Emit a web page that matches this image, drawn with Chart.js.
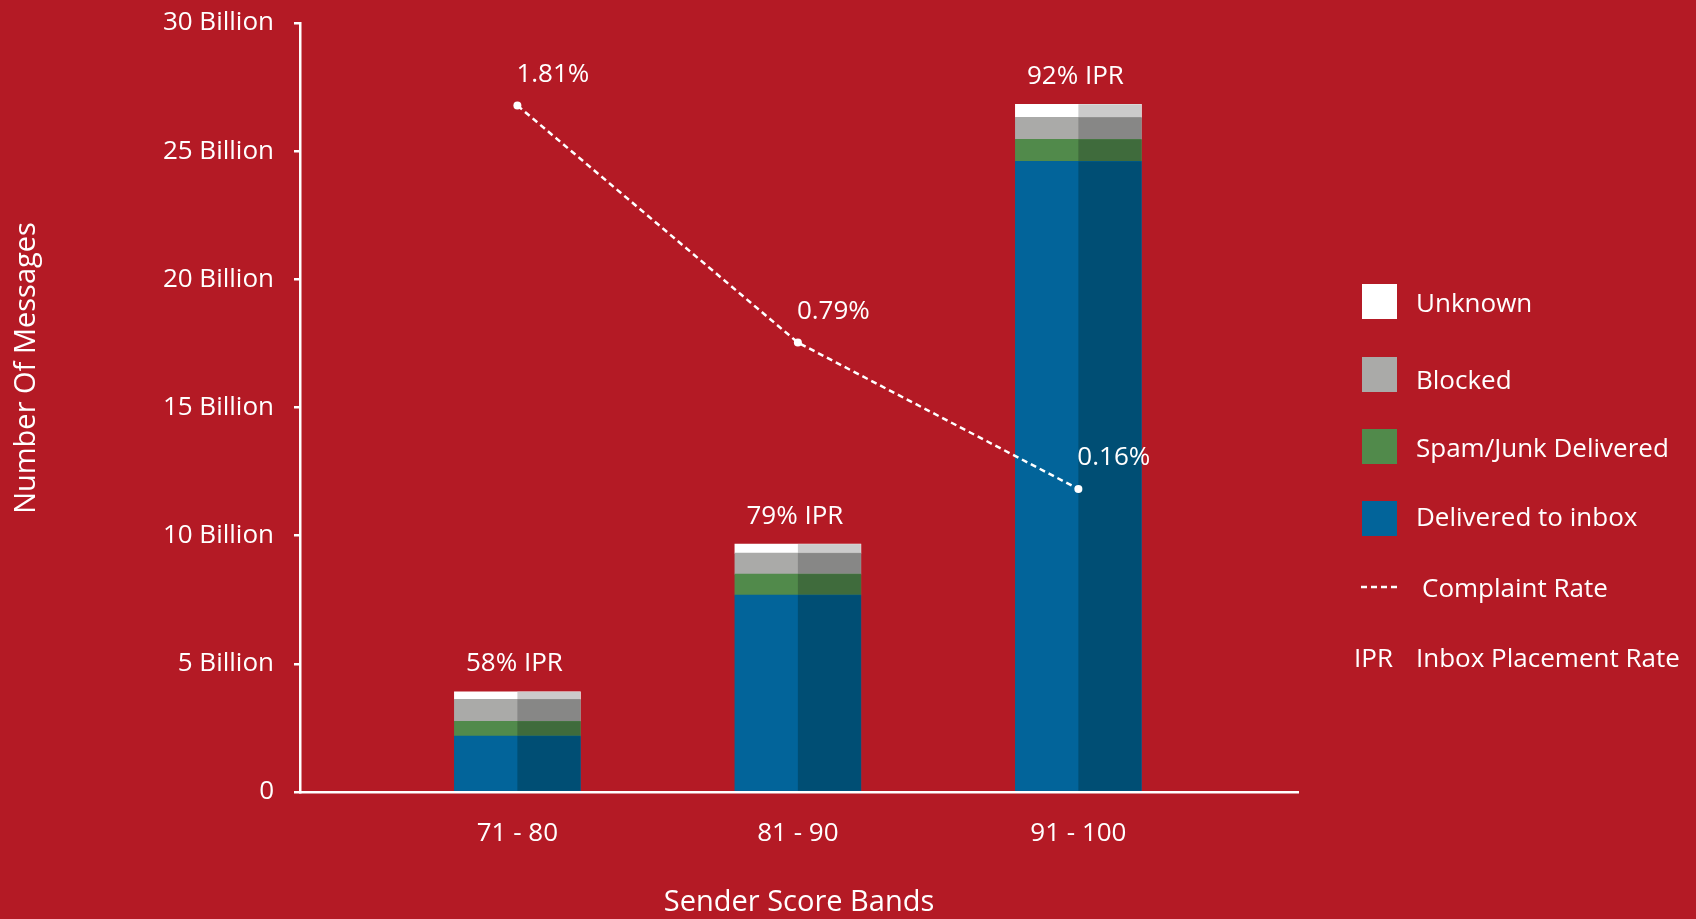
<!DOCTYPE html>
<html>
<head>
<meta charset="utf-8">
<script src="https://cdn.jsdelivr.net/npm/chart.js@4"></script>
<style>
    html, body { margin: 0; padding: 0; background: #b41a25; }
    #wrap { width: 1696px; height: 919px; position: relative; }
</style>
</head>
<body>
<div id="wrap"><canvas id="myChart"></canvas></div>
<script>
// Sender score bands, values in billions of messages
const categories = ['71 - 80', '81 - 90', '91 - 100'];
const bandPositions = [1, 2, 3];
const deliveredToInbox = [2.18, 7.68, 24.6];
const spamJunk = [0.58, 0.82, 0.86];
const blocked = [0.86, 0.82, 0.86];
const unknown = [0.29, 0.35, 0.51];
const complaintRate = [1.81, 0.79, 0.16];
const iprLabels = ['58% IPR', '79% IPR', '92% IPR'];
const yTicks = [0, 5, 10, 15, 20, 25, 30];

const FONT = "'Open Sans', 'Noto Sans', sans-serif";
Chart.defaults.font.family = FONT;
Chart.defaults.font.size = 26;
Chart.defaults.color = '#ffffff';

const toPoints = arr => arr.map((v, i) => ({ x: bandPositions[i], y: v }));

// right half of every bar is a darker shade
const splitShade = {
    id: 'splitShade',
    afterDatasetDraw(chart, args) {
        const meta = args.meta;
        if (meta.type !== 'bar') return;
        const ds = chart.data.datasets[args.index];
        const ctx = chart.ctx;
        ctx.save();
        ctx.fillStyle = ds.darkColor;
        meta.data.forEach(el => {
            const p = el.getProps(['x', 'y', 'base', 'width'], true);
            ctx.fillRect(p.x, Math.min(p.y, p.base), p.width / 2, Math.abs(p.base - p.y));
        });
        ctx.restore();
    }
};

// IPR labels over bars, complaint rate labels over line points
const valueLabels = {
    id: 'valueLabels',
    afterDatasetsDraw(chart) {
        const ctx = chart.ctx;
        ctx.save();
        ctx.fillStyle = '#ffffff';
        ctx.font = '26px ' + FONT;
        ctx.textBaseline = 'middle';

        const topMeta = chart.getDatasetMeta(3);
        ctx.textAlign = 'center';
        topMeta.data.forEach((el, i) => {
            ctx.fillText(iprLabels[i], el.x - 3, el.y - 28);
        });

        const lineMeta = chart.getDatasetMeta(4);
        ctx.textAlign = 'left';
        lineMeta.data.forEach((el, i) => {
            ctx.fillText(complaintRate[i].toFixed(2) + '%', el.x - 1, el.y - 31);
        });
        ctx.restore();
    }
};

// side legend and rotated y title
const sideLegend = {
    id: 'sideLegend',
    afterDraw(chart) {
        const ctx = chart.ctx;
        ctx.save();
        ctx.fillStyle = '#ffffff';
        ctx.font = '26px ' + FONT;
        ctx.textBaseline = 'middle';
        ctx.textAlign = 'left';

        const boxes = [
            { label: 'Unknown', color: '#ffffff', y: 284, ty: 305 },
            { label: 'Blocked', color: '#aaaaa8', y: 357, ty: 382 },
            { label: 'Spam/Junk Delivered', color: '#518a4b', y: 429, ty: 450 },
            { label: 'Delivered to inbox', color: '#02649a', y: 501, ty: 519 }
        ];
        boxes.forEach(b => {
            ctx.fillStyle = b.color;
            ctx.fillRect(1362, b.y, 35, 35);
            ctx.fillStyle = '#ffffff';
            ctx.fillText(b.label, 1416, b.ty);
        });

        ctx.strokeStyle = '#ffffff';
        ctx.lineWidth = 2.5;
        ctx.setLineDash([6, 4]);
        ctx.beginPath();
        ctx.moveTo(1361, 587);
        ctx.lineTo(1400, 587);
        ctx.stroke();
        ctx.setLineDash([]);
        ctx.fillText('Complaint Rate', 1422, 590);

        ctx.fillText('IPR', 1354, 660);
        ctx.fillText('Inbox Placement Rate', 1416, 660);

        ctx.font = '29px ' + FONT;
        ctx.translate(27, 368);
        ctx.rotate(-Math.PI / 2);
        ctx.textAlign = 'center';
        ctx.fillText('Number Of Messages', 0, 0);
        ctx.restore();
    }
};

const cty = document.getElementById('myChart').getContext('2d');
new Chart(cty, {
    type: 'bar',
    data: {
        datasets: [
            { label: 'Delivered to inbox', data: toPoints(deliveredToInbox), backgroundColor: '#02649a', darkColor: '#004e74', order: 1 },
            { label: 'Spam/Junk Delivered', data: toPoints(spamJunk), backgroundColor: '#518a4b', darkColor: '#3f6b3c', order: 1 },
            { label: 'Blocked', data: toPoints(blocked), backgroundColor: '#aaaaa8', darkColor: '#878786', order: 1 },
            { label: 'Unknown', data: toPoints(unknown), backgroundColor: '#ffffff', darkColor: '#cbcbcb', order: 1 },
            {
                type: 'line',
                label: 'Complaint Rate',
                data: toPoints(complaintRate),
                yAxisID: 'y1',
                borderColor: '#ffffff',
                borderWidth: 2.5,
                borderDash: [6, 4],
                tension: 0,
                pointRadius: 4,
                pointBackgroundColor: '#ffffff',
                pointBorderWidth: 0,
                order: 0
            }
        ]
    },
    options: {
        responsive: true,
        maintainAspectRatio: false,
        animation: false,
        layout: { padding: { top: 23, right: 398, left: 0, bottom: 0 } },
        datasets: {
            bar: { barThickness: 126, grouped: false, borderWidth: 0 }
        },
        plugins: {
            legend: { display: false },
            tooltip: { enabled: false }
        },
        scales: {
            x: {
                type: 'linear',
                offset: false,
                min: 0.225,
                max: 3.783,
                afterBuildTicks: scale => {
                    scale.ticks = bandPositions.map(v => ({ value: v }));
                },
                afterFit: scale => {
                    scale.height = 127;
                    scale.paddingLeft = 0;
                    scale.paddingRight = 0;
                },
                ticks: {
                    padding: 18,
                    color: '#ffffff',
                    callback: value => categories[bandPositions.indexOf(value)] || ''
                },
                grid: { display: false, offset: false },
                border: { color: '#ffffff', width: 2.5 },
                title: {
                    display: true,
                    text: 'Sender Score Bands',
                    color: '#ffffff',
                    font: { size: 29, lineHeight: 1.1 },
                    padding: { top: 0, bottom: 0 }
                }
            },
            y: {
                stacked: true,
                min: 0,
                max: 30,
                afterBuildTicks: scale => {
                    scale.ticks = yTicks.map(v => ({ value: v }));
                },
                afterFit: scale => {
                    scale.width = 300;
                    scale.paddingTop = 0;
                    scale.paddingBottom = 0;
                },
                ticks: {
                    padding: 20,
                    color: '#ffffff',
                    callback: value => value === 0 ? '0' : value + ' Billion'
                },
                grid: {
                    drawOnChartArea: false,
                    drawTicks: true,
                    tickLength: 6,
                    color: '#ffffff',
                    lineWidth: 2.5
                },
                border: { color: '#ffffff', width: 2.5 }
            },
            y1: {
                display: false,
                min: -1.144,
                max: 2.165
            }
        }
    },
    plugins: [splitShade, valueLabels, sideLegend]
});
</script>
</body>
</html>
